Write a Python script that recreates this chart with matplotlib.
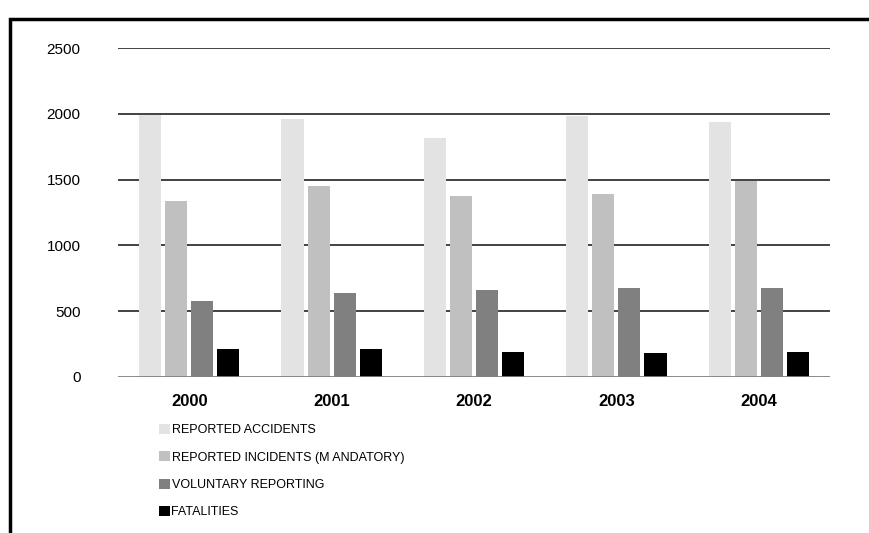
import matplotlib
matplotlib.use('Agg')
import matplotlib.pyplot as plt
from matplotlib.patches import Rectangle
import numpy as np

plt.rcParams['font.family'] = ['Liberation Sans', 'DejaVu Sans']

years = ['2000', '2001', '2002', '2003', '2004']
series_names = ['REPORTED ACCIDENTS', 'REPORTED INCIDENTS (M ANDATORY)',
                'VOLUNTARY REPORTING', 'FATALITIES']
accidents = [1990, 1960, 1815, 1982, 1937]
incidents = [1341, 1448, 1379, 1387, 1486]
voluntary = [578, 639, 662, 677, 677]
fatalities = [211, 211, 189, 181, 189]
colors = ['#e3e3e3', '#c0c0c0', '#808080', '#000000']

W, H = 869, 533
fig = plt.figure(figsize=(W / 100, H / 100), dpi=100)
ax = fig.add_axes([118 / W, 1 - 377 / H, 712 / W, 329 / H])

x = np.arange(len(years))
step = 0.183
width = 0.155
all_series = [accidents, incidents, voluntary, fatalities]
for i, (vals, name, c) in enumerate(zip(all_series, series_names, colors)):
    ax.bar(x + (i - 1.5) * step, vals, width=width, color=c, label=name, zorder=3)

ax.set_xlim(-0.5, len(years) - 0.5)
ax.set_ylim(0, 2500)
ax.set_yticks([0, 500, 1000, 1500, 2000, 2500])
ax.set_xticks(x)
ax.set_xticklabels(years, fontweight='bold', fontsize=12)
ax.tick_params(axis='y', length=0, pad=27, labelsize=11)
ax.tick_params(axis='x', length=0, pad=12)
for v in [500, 1000, 1500, 2000, 2500]:
    ax.axhline(v, color='#222222', lw=1.2, zorder=1)
ax.axhline(0, color='#808080', lw=2, zorder=4)
for s in ax.spines.values():
    s.set_visible(False)

fig.legend(loc='upper left', bbox_to_anchor=(159 / W, 1 - 424 / H), frameon=False,
           fontsize=9, handlelength=0.85, handleheight=0.85, handletextpad=0.15,
           labelspacing=1.2, borderaxespad=0, borderpad=0)

fig.patches.append(Rectangle((10 / W, -0.1), 1.2, 1.1 - 19 / H, transform=fig.transFigure,
                             fill=False, edgecolor='black', lw=2.5))

fig.savefig('out.png', dpi=100)
